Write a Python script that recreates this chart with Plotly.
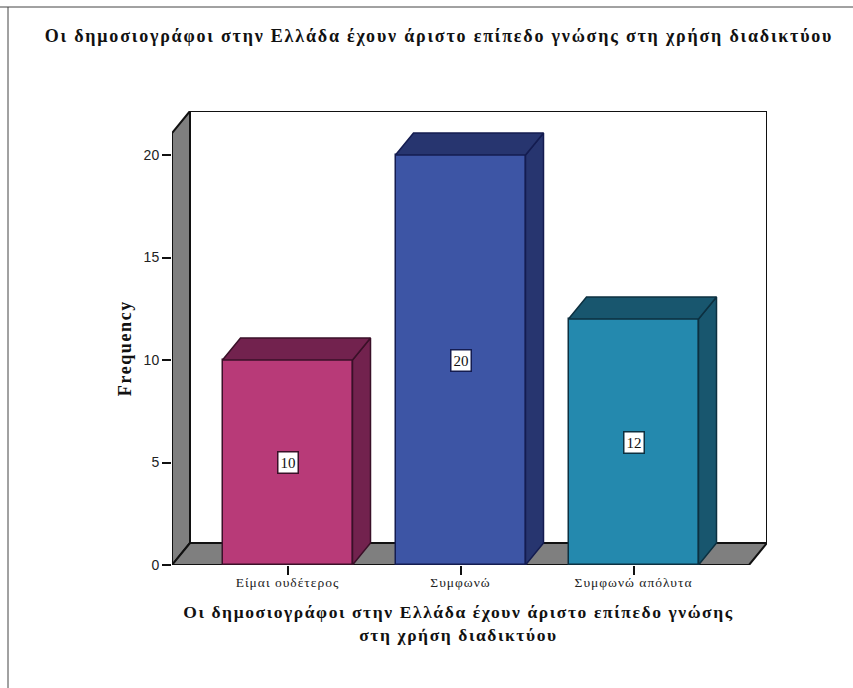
import plotly.graph_objects as go

categories = ["Είμαι ουδέτερος", "Συμφωνώ", "Συμφωνώ απόλυτα"]
frequencies = [10, 20, 12]
front_colors = ["#B83A78", "#3D55A5", "#2489AE"]
side_colors = ["#72224E", "#27356F", "#18566E"]
edge_colors = ["#3A1028", "#141C50", "#0C3040"]
y_ticks = [0, 5, 10, 15, 20]
title_text = "Οι δημοσιογράφοι στην Ελλάδα έχουν άριστο επίπεδο γνώσης στη χρήση διαδικτύου"
x_title = "Οι δημοσιογράφοι στην Ελλάδα έχουν άριστο επίπεδο γνώσης<br>στη χρήση διαδικτύου"
y_title = "Frequency"

W, H = 853, 688
L, R, T, B = 172, 767, 111, 565
UX, UY = 173.0, 20.5          # pixels per category step / per frequency unit
XMIN = (L - 287.5) / UX
XMAX = (R - 287.5) / UX
YMAX = (B - T) / UY
DX, DY = 18 / UX, 22 / UY     # oblique depth
BAR_W = 130 / UX
SERIF = "Liberation Serif"
WALL = "#7F7F7F"
INK = "#111111"

fig = go.Figure()

# Bar fronts
fig.add_trace(go.Bar(
    x=list(range(len(categories))), y=frequencies, width=BAR_W,
    marker=dict(color=front_colors, line=dict(color=edge_colors, width=1.5)),
    showlegend=False, hoverinfo="skip",
))

# Bar side and top faces, derived from the values
for i, v in enumerate(frequencies):
    x1 = i - BAR_W / 2
    x2 = i + BAR_W / 2
    faces = [
        ([x2, x2 + DX, x2 + DX, x2, x2], [0, DY, v + DY, v, 0]),
        ([x1, x1 + DX, x2 + DX, x2, x1], [v, v + DY, v + DY, v, v]),
    ]
    for fx, fy in faces:
        fig.add_trace(go.Scatter(
            x=fx, y=fy, mode="lines", fill="toself",
            fillcolor=side_colors[i], line=dict(color=edge_colors[i], width=1.5),
            showlegend=False, hoverinfo="skip",
        ))

wall_line = dict(color=INK, width=2)
def poly(points):
    return "M " + " L ".join(f"{x},{y}" for x, y in points) + " Z"

shapes = [
    # back wall
    dict(type="rect", xref="x", yref="y", x0=XMIN + DX, x1=XMAX, y0=DY, y1=YMAX,
         fillcolor="white", line=wall_line, layer="below"),
    # left wall
    dict(type="path", xref="x", yref="y",
         path=poly([(XMIN, 0), (XMIN + DX, DY), (XMIN + DX, YMAX), (XMIN, YMAX - DY)]),
         fillcolor=WALL, line=wall_line, layer="below"),
    # floor
    dict(type="path", xref="x", yref="y",
         path=poly([(XMIN, 0), (XMIN + DX, DY), (XMAX, DY), (XMAX - DX, 0)]),
         fillcolor=WALL, line=wall_line, layer="below"),
    # page frame
    dict(type="line", xref="paper", yref="paper", x0=-L / (R - L), x1=(W - L) / (R - L),
         y0=(B - 7) / (B - T), y1=(B - 7) / (B - T), line=dict(color="#444444", width=1)),
    dict(type="line", xref="paper", yref="paper",
         x0=(8 - L) / (R - L), x1=(8 - L) / (R - L),
         y0=(B - 7) / (B - T), y1=(B - H) / (B - T), line=dict(color="#444444", width=1)),
]

annotations = [
    dict(x=i, y=v / 2, text=str(v), showarrow=False, bgcolor="white",
         bordercolor=edge_colors[i], borderwidth=1.5, borderpad=2,
         font=dict(family=SERIF, size=15, color="#111111"))
    for i, v in enumerate(frequencies)
]
# Axis titles
annotations.append(dict(
    xref="paper", yref="paper", x=(459 - L) / (R - L), y=(B - 623) / (B - T),
    xanchor="center", yanchor="middle", showarrow=False, align="center",
    text=f"<b>{x_title}</b>", font=dict(family=SERIF, size=17.5, color="#111111"),
))
annotations.append(dict(
    xref="paper", yref="paper", x=(125 - L) / (R - L), y=(B - 348) / (B - T),
    xanchor="center", yanchor="middle", showarrow=False, textangle=-90,
    text=f"<b>{y_title}</b>", font=dict(family=SERIF, size=18, color="#111111"),
))

fig.update_layout(
    width=W, height=H,
    margin=dict(l=L, r=W - R, t=T, b=H - B, pad=0),
    paper_bgcolor="white", plot_bgcolor="rgba(0,0,0,0)",
    title=dict(text=f"<b>{title_text}</b>", x=439 / W, xanchor="center",
               y=1 - 36 / H, yanchor="middle",
               font=dict(family=SERIF, size=18, color="#111111")),
    shapes=shapes, annotations=annotations, showlegend=False, bargap=0,
    xaxis=dict(
        range=[XMIN, XMAX], tickmode="array", tickvals=list(range(len(categories))),
        ticktext=categories, ticks="outside", ticklen=9, tickcolor=INK, tickwidth=1.5,
        ticklabelstandoff=-4,
        showgrid=False, zeroline=False, showline=False,
        tickfont=dict(family=SERIF, size=13.5, color="#222222"),
    ),
    yaxis=dict(
        range=[0, YMAX], tickmode="array", tickvals=y_ticks,
        ticks="outside", ticklen=9, tickcolor=INK, tickwidth=1.5,
        showgrid=False, zeroline=False, showline=False,
        tickfont=dict(family="Liberation Sans", size=14, color="#222222"),
    ),
)

post = """
document.body.style.margin = '0';
function track() {
  var gd = document.querySelector('.js-plotly-plot');
  gd.querySelectorAll('.gtitle').forEach(function (t) { t.style.letterSpacing = '1.8px'; });
  gd.querySelectorAll('.xtick text').forEach(function (t) { t.style.letterSpacing = '1px'; });
  gd.querySelectorAll('.annotation-text').forEach(function (t) {
    if (t.textContent.length > 5) { t.style.letterSpacing = '1.6px'; }
  });
}
track();
setTimeout(track, 50);
"""
fig.write_html("out.html", post_script=post, config={"displayModeBar": False})
